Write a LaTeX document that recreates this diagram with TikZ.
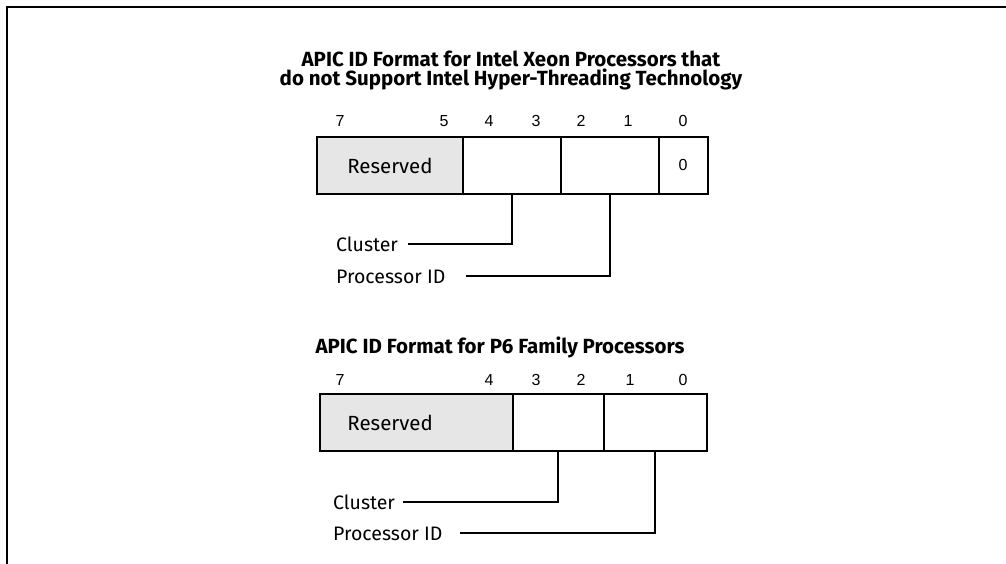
\documentclass[tikz,border=0pt]{standalone}
\usepackage{fontspec}
\newfontfamily\clearfont{Fira Sans}
\newfontfamily\arialfont{Liberation Sans}
\usetikzlibrary{positioning}
\definecolor{rsvgray}{RGB}{230,230,230}

\begin{document}
\begin{tikzpicture}[
  x=1pt, y=-1pt,
  field/.style={draw, line width=0.9pt, minimum height=56pt, inner sep=0pt, font=\clearfont\fontsize{20.5}{20}\selectfont},
  rsv/.style={field, fill=rsvgray},
  bitno/.style={inner sep=0pt, anchor=base, font=\arialfont\fontsize{16}{16}\selectfont},
  ttl/.style={align=center, inner sep=0pt, anchor=north, font=\clearfont\bfseries\fontsize{20.5}{18.5}\selectfont},
  lbl/.style={anchor=west, inner sep=0pt, text height=14pt, text depth=0pt, font=\clearfont\fontsize{19.5}{19}\selectfont},
  lead/.style={line width=1.8pt},
  outline/.style={line width=1.8pt}
]
\useasboundingbox (0,0) rectangle (1006,564);
\draw[line width=2pt] (1006,7) -- (7,7) -- (7,564);

% Xeon format, no Hyper-Threading
\node[ttl] (xtitle) at (511,51) {APIC ID Format for Intel Xeon Processors that\\do not Support Intel Hyper-Threading Technology};

\node[rsv, minimum width=145pt, anchor=north west] (xrsv) at (317,137) {Reserved};
\node[field, minimum width=97pt, right=0pt of xrsv] (xcl) {};
\node[field, minimum width=97pt, right=0pt of xcl] (xpid) {};
\node[field, minimum width=48pt, right=0pt of xpid, font=\arialfont\fontsize{16}{16}\selectfont] (xzero) {0};
\draw[outline] (xrsv.north west) rectangle (xzero.south east);

\foreach \b/\x in {7/340, 5/444, 4/489, 3/536, 2/581, 1/628, 0/683}
  \node[bitno] (xb\b) at (\x,127) {\b};

\node[lbl] (xlcl) at (336,244) {Cluster};
\node[lbl] (xlpid) at (336,276) {Processor ID};
\coordinate (xccl) at (408,244);
\coordinate (xcpid) at (466,276);
\draw[lead] (xcl.south) |- (xccl);
\draw[lead] (xpid.south) |- (xcpid);

% P6 family format
\node[ttl] (ptitle) at (500,337) {APIC ID Format for P6 Family Processors};

\node[rsv, minimum width=192pt, text width=192pt, align=left, anchor=north west] (prsv) at (320,394) {\hspace*{27pt}Reserved};
\node[field, minimum width=90pt, right=0pt of prsv] (pcl) {};
\node[field, minimum width=102pt, right=0pt of pcl] (ppid) {};
\draw[outline] (prsv.north west) rectangle (ppid.south east);

\foreach \b/\x in {7/340, 4/489, 3/536, 2/581, 1/630, 0/683}
  \node[bitno] (pb\b) at (\x,385) {\b};

\node[lbl] (plcl) at (333,502) {Cluster};
\node[lbl] (plpid) at (333,533) {Processor ID};
\coordinate (pccl) at (403,502);
\coordinate (pcpid) at (460,533);
\draw[lead] (pcl.south) |- (pccl);
\draw[lead] (ppid.south) |- (pcpid);

\end{tikzpicture}
\end{document}
